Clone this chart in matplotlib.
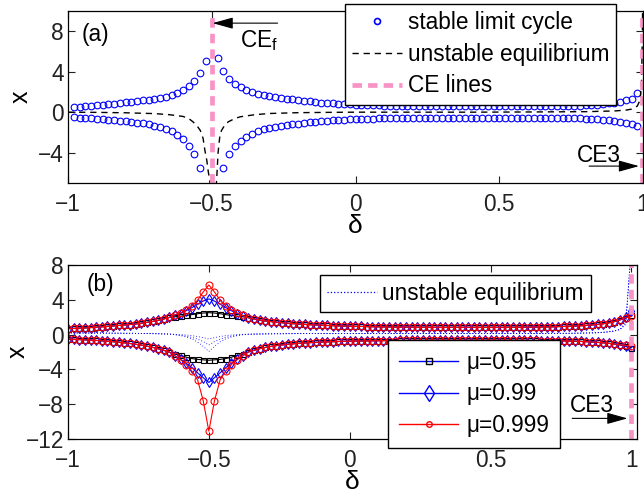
import numpy as np
import matplotlib
matplotlib.use('Agg')
import matplotlib.pyplot as plt
from matplotlib.lines import Line2D

plt.rcParams['font.family'] = ['Liberation Sans', 'DejaVu Sans']
plt.rcParams['mathtext.fontset'] = 'custom'
plt.rcParams['mathtext.rm'] = 'Liberation Sans'
plt.rcParams['mathtext.it'] = 'Liberation Sans:italic'

# ---------------- panel (a) data ----------------
delta_a = np.round(np.arange(-0.98, 0.981, 0.02), 2)

upper_a = [0.52, 0.55, 0.59, 0.63, 0.67, 0.72, 0.77, 0.83, 0.89, 0.96,
           1.03, 1.09, 1.16, 1.23, 1.31, 1.40, 1.51, 1.68, 1.91, 2.17,
           2.57, 3.06, 3.88, 5.07, np.nan, 5.36, 4.05, 3.26, 2.80, 2.44,
           2.17, 2.00, 1.84, 1.74, 1.60, 1.50, 1.42, 1.34, 1.26, 1.19,
           1.12, 1.06, 1.00, 0.95, 0.90, 0.86, 0.82, 0.79, 0.76, 0.73,
           0.71, 0.69, 0.67, 0.66, 0.65, 0.64, 0.63, 0.62, 0.61, 0.61,
           0.60, 0.60, 0.60, 0.60, 0.60, 0.60, 0.60, 0.60, 0.60, 0.60,
           0.60, 0.60, 0.60, 0.60, 0.60, 0.60, 0.60, 0.60, 0.60, 0.60,
           0.60, 0.60, 0.60, 0.60, 0.60, 0.61, 0.62, 0.63, 0.65, 0.67,
           0.70, 0.74, 0.79, 0.86, 0.95, 1.05, 1.18, 1.35, 1.90]
lower_a = [-0.52, -0.55, -0.58, -0.62, -0.66, -0.70, -0.75, -0.80, -0.86, -0.92,
           -0.97, -1.03, -1.10, -1.20, -1.32, -1.46, -1.65, -1.90, -2.25, -2.70,
           -3.36, -4.18, -5.50, np.nan, np.nan, np.nan, -5.50, -4.18, -3.36, -2.84,
           -2.47, -2.15, -1.88, -1.68, -1.55, -1.44, -1.35, -1.27, -1.19, -1.12,
           -1.06, -1.00, -0.95, -0.90, -0.86, -0.82, -0.78, -0.75, -0.72, -0.69,
           -0.67, -0.65, -0.63, -0.62, -0.61, -0.60, -0.59, -0.58, -0.58, -0.57,
           -0.57, -0.57, -0.57, -0.57, -0.57, -0.57, -0.57, -0.57, -0.57, -0.57,
           -0.57, -0.57, -0.57, -0.57, -0.57, -0.57, -0.57, -0.57, -0.57, -0.57,
           -0.57, -0.57, -0.57, -0.57, -0.57, -0.58, -0.59, -0.60, -0.62, -0.64,
           -0.67, -0.70, -0.74, -0.80, -0.87, -0.95, -1.03, -1.12, -1.38]

ue_a_delta = [-1.0, -0.9, -0.8, -0.7, -0.65, -0.6, -0.58, -0.565, -0.55, -0.54,
              -0.53, -0.524, -0.517, -0.512, -0.507, -0.502, -0.495, -0.488, -0.483, -0.478,
              -0.472, -0.466, -0.455, -0.443, -0.42, -0.4, -0.35, -0.3, -0.2, -0.1,
              0.0, 0.2, 0.4, 0.6, 0.8, 0.9, 0.94, 0.96, 0.98, 0.99,
              0.995, 0.998, 0.999]
ue_a = [0.0, -0.02, -0.06, -0.14, -0.24, -0.42, -0.63, -0.96, -1.4, -1.8,
        -2.6, -3.75, -4.8, -5.9, -6.7, -8.5, np.nan, -8.5, -6.7, -4.0,
        -2.4, -1.8, -1.3, -0.96, -0.63, -0.45, -0.25, -0.13, -0.05, -0.02,
        0.0, 0.0, 0.0, 0.02, 0.05, 0.12, 0.2, 0.3, 0.6, 1.2,
        3.0, 8.0, 12.0]

ce_f = -0.5
ce3 = 0.997

# ---------------- panel (b) data ----------------
delta_b = np.round(np.arange(-1.0, 1.001, 0.02), 2)

# far from delta=-0.5 the three mu curves overlap
up_left = [0.69, 0.71, 0.74, 0.77, 0.81, 0.85, 0.90, 0.95, 1.00, 1.05,
           1.10, 1.16, 1.23, 1.31, 1.40, 1.51, 1.64, 1.80, 1.98]
lo_left = [-0.52, -0.54, -0.57, -0.60, -0.63, -0.67, -0.71, -0.76, -0.81, -0.87,
           -0.94, -1.02, -1.11, -1.21, -1.33, -1.46, -1.62, -1.80, -2.02]
up_right = [1.95, 1.80, 1.68, 1.58, 1.50, 1.43, 1.37, 1.31, 1.26, 1.22,
            1.18, 1.14, 1.11, 1.08, 1.05, 1.03, 1.01, 0.99, 0.97, 0.95,
            0.94, 0.92, 0.91, 0.90, 0.89, 0.88, 0.87, 0.87, 0.86, 0.86,
            0.85, 0.85, 0.85, 0.84, 0.84, 0.84, 0.84, 0.84, 0.84, 0.84,
            0.84, 0.84, 0.84, 0.84, 0.84, 0.84, 0.85, 0.85, 0.85, 0.86,
            0.86, 0.87, 0.88, 0.89, 0.90, 0.92, 0.94, 0.96, 0.99, 1.02,
            1.06, 1.11, 1.17, 1.25, 1.35, 1.50, 1.70]
lo_right = [-2.00, -1.80, -1.62, -1.48, -1.36, -1.26, -1.18, -1.11, -1.05, -1.00,
            -0.96, -0.92, -0.89, -0.86, -0.83, -0.81, -0.79, -0.77, -0.75, -0.74,
            -0.73, -0.72, -0.71, -0.70, -0.69, -0.68, -0.68, -0.67, -0.67, -0.66,
            -0.66, -0.66, -0.65, -0.65, -0.65, -0.65, -0.65, -0.65, -0.65, -0.65,
            -0.65, -0.65, -0.65, -0.65, -0.65, -0.65, -0.65, -0.66, -0.66, -0.66,
            -0.67, -0.67, -0.68, -0.69, -0.70, -0.71, -0.72, -0.74, -0.76, -0.78,
            -0.81, -0.85, -0.89, -0.94, -1.00, -1.08, -1.18]

# delta = -0.62 ... -0.38
up_mid_095 = [2.05, 2.12, 2.20, 2.30, 2.40, 2.48, 2.52, 2.48, 2.40, 2.30, 2.20, 2.12, 2.05]
up_mid_099 = [2.25, 2.42, 2.75, 3.10, 3.50, 3.85, 4.10, 3.85, 3.50, 3.10, 2.75, 2.42, 2.15]
up_mid_0999 = [2.30, 2.50, 2.85, 3.30, 3.95, 4.90, 5.70, 4.90, 3.95, 3.30, 2.85, 2.50, 2.20]
lo_mid_095 = [-2.25, -2.40, -2.60, -2.75, -2.85, -2.90, -2.95, -2.90, -2.85, -2.75, -2.60, -2.40, -2.25]
lo_mid_099 = [-2.45, -2.85, -3.30, -3.80, -4.40, -4.95, -5.50, -4.95, -4.40, -3.80, -3.30, -2.85, -2.45]
lo_mid_0999 = [-2.45, -2.90, -3.45, -4.20, -5.20, -7.60, -11.10, -7.60, -5.20, -4.20, -3.45, -2.90, -2.45]

# delta = 0.98, 1.00
up_end_095 = [1.90, 2.30]
up_end_099 = [2.05, 2.66]
up_end_0999 = [1.95, 2.10]
lo_end_095 = [-1.30, -1.50]
lo_end_099 = [-1.35, -1.71]
lo_end_0999 = [-1.25, -1.33]

# unstable equilibria (dotted)
ue_left = [0.20, 0.20, 0.19, 0.19, 0.18, 0.18, 0.17, 0.17, 0.16, 0.16,
           0.15, 0.15, 0.14, 0.13, 0.12, 0.11, 0.10, 0.08, 0.06]
ue_right = [0.04, 0.06, 0.07, 0.08, 0.09, 0.10, 0.10, 0.11, 0.11, 0.12,
            0.12, 0.12, 0.12, 0.13, 0.13, 0.13, 0.13, 0.13, 0.13, 0.13,
            0.13, 0.13, 0.13, 0.13, 0.13, 0.13, 0.13, 0.13, 0.13, 0.13,
            0.13, 0.13, 0.13, 0.13, 0.13, 0.13, 0.13, 0.13, 0.13, 0.13,
            0.13, 0.13, 0.13, 0.13, 0.13, 0.13, 0.13, 0.13, 0.13, 0.13,
            0.13, 0.13, 0.13, 0.14, 0.14, 0.14, 0.15, 0.15, 0.16, 0.17,
            0.18, 0.20, 0.22, 0.26, 0.32, 0.42, 0.60]
ue_mid_095 = [0.03, 0.00, -0.05, -0.12, -0.22, -0.35, -0.50, -0.35, -0.22, -0.12, -0.05, 0.00, 0.03]
ue_mid_099 = [0.00, -0.08, -0.18, -0.32, -0.52, -0.80, -1.20, -0.80, -0.52, -0.32, -0.18, -0.08, 0.00]
ue_mid_0999 = [-0.02, -0.12, -0.28, -0.50, -0.85, -1.35, -1.95, -1.35, -0.85, -0.50, -0.28, -0.12, -0.02]
ue_end_095 = [1.10, 10.0]
ue_end_099 = [1.30, 10.0]
ue_end_0999 = [1.50, 10.0]

mu_labels = ['\u03bc=0.95', '\u03bc=0.99', '\u03bc=0.999']

up_b = {m: up_left + mid + up_right + end for m, mid, end in
        zip(mu_labels, [up_mid_095, up_mid_099, up_mid_0999], [up_end_095, up_end_099, up_end_0999])}
lo_b = {m: lo_left + mid + lo_right + end for m, mid, end in
        zip(mu_labels, [lo_mid_095, lo_mid_099, lo_mid_0999], [lo_end_095, lo_end_099, lo_end_0999])}
ue_b = {m: ue_left + mid + ue_right + end for m, mid, end in
        zip(mu_labels, [ue_mid_095, ue_mid_099, ue_mid_0999], [ue_end_095, ue_end_099, ue_end_0999])}

assert len(upper_a) == len(delta_a) and len(lower_a) == len(delta_a)
assert len(ue_a) == len(ue_a_delta)
for m in mu_labels:
    assert len(up_b[m]) == len(delta_b)
    assert len(lo_b[m]) == len(delta_b)
    assert len(ue_b[m]) == len(delta_b)

pink = '#f893c6'
fs = 16.3
arrow_kw = dict(arrowstyle='-|>,head_length=0.9,head_width=0.25',
                color='k', lw=0.8, mutation_scale=14, shrinkA=0, shrinkB=0)
leg_kw = dict(loc='upper left', fontsize=fs, frameon=True, fancybox=False,
              edgecolor='k', framealpha=1, borderaxespad=0, numpoints=1)

fig = plt.figure(figsize=(6.44, 4.94), dpi=100)
W, H = 644.0, 494.0
ax1 = fig.add_axes([68 / W, 1 - 183 / H, 575 / W, 172 / H])
ax2 = fig.add_axes([68 / W, 1 - 439 / H, 569 / W, 174 / H])

# ---- (a)
ax1.plot(delta_a, upper_a, 'o', mfc='none', mec='b', ms=4.8, mew=0.8)
ax1.plot(delta_a, lower_a, 'o', mfc='none', mec='b', ms=4.8, mew=0.8)
ax1.plot(ue_a_delta, ue_a, color='k', lw=1.0, ls=(0, (4.5, 3.5)))
ax1.axvline(ce_f, color=pink, lw=3.4, ls=(0, (2.0, 1.3)))
ax1.axvline(ce3, color=pink, lw=3.4, ls=(0, (2.0, 1.3)))
ax1.set_xlim(-1, 1)
ax1.set_ylim(-7, 10)
ax1.set_yticks([-4, 0, 4, 8])

ax1.text(-0.951, 7.65, '(a)', fontsize=fs, va='center')
ax1.annotate('', xy=(ce_f + 0.003, 8.8), xytext=(-0.271, 8.8), arrowprops=arrow_kw)
ax1.text(-0.403, 6.42, 'CE$_{\\rm f}$', fontsize=fs, va='baseline')
ax1.text(0.771, -4.94, 'CE3', fontsize=fs, va='baseline')
ax1.annotate('', xy=(0.986, -5.33), xytext=(0.8125, -5.33), arrowprops=arrow_kw)

h_a = [Line2D([], [], ls='none', marker='o', mfc='none', mec='b', ms=4.3, mew=1.2),
       Line2D([], [], color='k', lw=1.0, ls=(0, (4.5, 3.5))),
       Line2D([], [], color=pink, lw=3.4, ls=(0, (2.0, 1.3)))]
fig.legend(h_a, ['stable limit cycle', 'unstable equilibrium', 'CE lines'],
           bbox_to_anchor=(345 / W, 1 - 4 / H), labelspacing=0.38, borderpad=0.32,
           handlelength=2.2, handletextpad=0.25, **leg_kw)

# ---- (b)
mk = {'\u03bc=0.95': dict(color='k', marker='s', mec='k', ms=3.6),
      '\u03bc=0.99': dict(color='b', marker='d', mec='b', ms=5.5),
      '\u03bc=0.999': dict(color='r', marker='o', mec='r', ms=5.0)}
for m in mu_labels:
    ax2.plot(delta_b, ue_b[m], color='b', lw=0.6, ls=(0, (1, 2.5)))
for m in mu_labels:
    ax2.plot(delta_b, up_b[m], lw=0.8, mfc='none', mew=0.8, **mk[m])
    ax2.plot(delta_b, lo_b[m], lw=0.8, mfc='none', mew=0.8, **mk[m])
ax2.axvline(ce3, color=pink, lw=3.4, ls=(0, (2.0, 1.3)))
ax2.set_xlim(-1, 1.02)
ax2.set_ylim(-12, 8)
ax2.set_yticks([-12, -8, -4, 0, 4, 8])

ax2.text(-0.933, 5.71, '(b)', fontsize=fs, va='center')
ax2.text(0.78, -8.88, 'CE3', fontsize=fs, va='baseline')
ax2.annotate('', xy=(0.986, -9.63), xytext=(0.79, -9.63), arrowprops=arrow_kw)

fig.legend([Line2D([], [], color='b', lw=0.9, ls=':')], ['unstable equilibrium'],
           bbox_to_anchor=(320 / W, 1 - 275 / H), borderpad=0.3,
           handlelength=2.2, handletextpad=0.25, **leg_kw)
h_b = [Line2D([], [], color='b', lw=1.0, marker='s', mec='k', mfc='none', ms=4),
       Line2D([], [], color='b', lw=1.0, marker='d', mec='b', mfc='none', ms=8),
       Line2D([], [], color='r', lw=1.0, marker='o', mec='r', mfc='none', ms=4)]
fig.legend(h_b, mu_labels, bbox_to_anchor=(388 / W, 1 - 340 / H),
           labelspacing=0.36, borderpad=0.5, handlelength=2.6, handletextpad=0.35,
           **leg_kw)

xt = [-1, -0.5, 0, 0.5, 1]
for ax, lx in [(ax1, -0.062), (ax2, -0.068)]:
    ax.set_xticks(xt)
    ax.set_xticklabels(['\u22121', '\u22120.5', '0', '0.5', '1'])
    ax.tick_params(direction='in', top=True, right=True, length=5, width=0.8,
                   labelsize=fs, colors='#222222')
    ax.tick_params(axis='x', pad=7)
    ax.tick_params(axis='y', pad=3)
    for s in ax.spines.values():
        s.set_linewidth(0.9)
    ax.set_ylabel('x', fontsize=18)
    ax.yaxis.set_label_coords(lx, 0.5)
    ax.set_xlabel('\u03b4', fontsize=19)

ax1.xaxis.set_label_coords(0.5, -0.18)
ax2.xaxis.set_label_coords(0.5, -0.178)

fig.savefig('out.png', dpi=100)
